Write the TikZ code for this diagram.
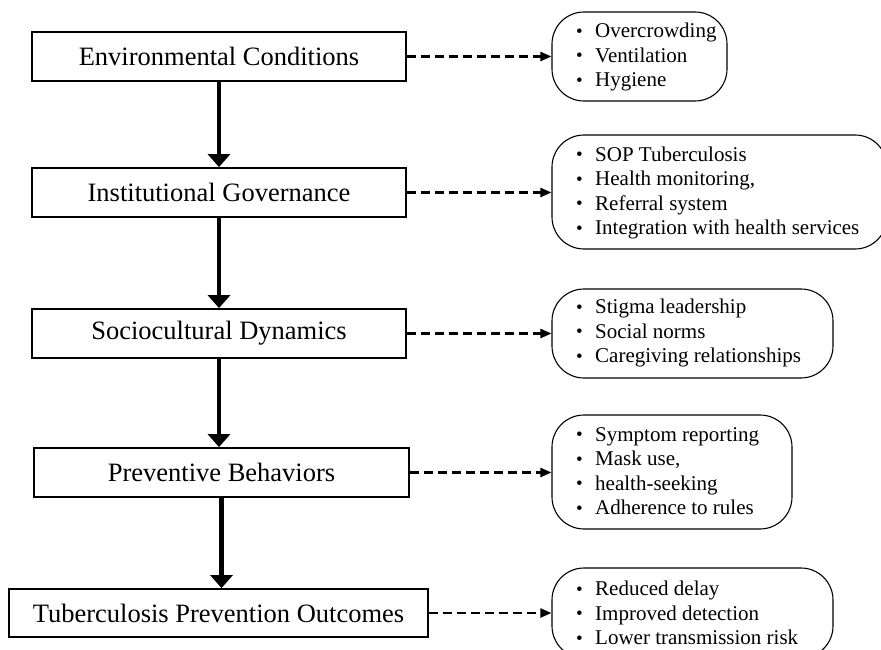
\documentclass[tikz,border=0pt]{standalone}
\usepackage{fontspec}
\setmainfont{Liberation Serif}
\usetikzlibrary{arrows.meta}
\newcommand{\bul}{\makebox[19pt][l]{\raisebox{0.5pt}{\fontsize{19}{19}\selectfont\textbullet}}}
\begin{document}
\begin{tikzpicture}[x=1pt,y=-1pt,
  mainbox/.style={draw, line width=1.8pt, inner sep=0pt, font=\fontsize{26.5}{30}\selectfont},
  listbox/.style={draw, line width=1.1pt, rounded corners=32pt, inner sep=0pt},
  listtext/.style={anchor=west, inner sep=0pt, align=left, font=\fontsize{21}{24.5}\selectfont},
  mainarrow/.style={line width=4.5pt, -{Triangle[width=22pt,length=13pt]}},
  sidearrow/.style={line width=2.2pt, dash pattern=on 9pt off 5pt, -{Triangle[width=9pt,length=11pt]}}]
\useasboundingbox (0,0) rectangle (881,650);
\clip (0,0) rectangle (881,650);
% main boxes
\node[mainbox, minimum width=374pt, minimum height=49pt] (b1) at (219,56.5) {Environmental Conditions};
\node[mainbox, minimum width=374pt, minimum height=49pt] (b2) at (219,192.5) {Institutional Governance};
\node[mainbox, minimum width=374pt, minimum height=49pt] (b3) at (219,333.5) {Sociocultural Dynamics};
\node[mainbox, minimum width=375pt, minimum height=49pt] (b4) at (221.5,472.5) {Preventive Behaviors};
\node[mainbox, minimum width=419pt, minimum height=48pt] (b5) at (218.5,613) {Tuberculosis Prevention Outcomes};
% side boxes
\node[listbox, minimum width=175pt, minimum height=89pt] (r1) at (639.5,56.5) {};
\node[listbox, minimum width=335pt, minimum height=114pt] (r2) at (719.5,192) {};
\node[listbox, minimum width=281pt, minimum height=89pt] (r3) at (692.5,333.5) {};
\node[listbox, minimum width=240pt, minimum height=114pt] (r4) at (672,472) {};
\node[listbox, minimum width=281pt, minimum height=90pt] (r5) at (692.5,613) {};
% side texts
\node[listtext] (t1) at (576,57) {\bul Overcrowding\\\bul Ventilation\\\bul Hygiene};
\node[listtext] (t2) at (576,193) {\bul SOP Tuberculosis\\\bul Health monitoring,\\\bul Referral system\\\bul Integration with health services};
\node[listtext] (t3) at (576,333) {\bul Stigma leadership\\\bul Social norms\\\bul Caregiving relationships};
\node[listtext] (t4) at (576,471) {\bul Symptom reporting\\\bul Mask use,\\\bul health-seeking\\\bul Adherence to rules};
\node[listtext] (t5) at (576,613) {\bul Reduced delay\\\bul Improved detection\\\bul Lower transmission risk};
% vertical arrows
\draw[mainarrow] (b1.south) -- (b2.north);
\draw[mainarrow] (b2.south) -- (b3.north);
\draw[mainarrow] (b3.south) -- (b3.south |- b4.north);
\draw[mainarrow] (b4.south) -- (b4.south |- b5.north);
% dashed arrows
\draw[sidearrow] (b1.east) -- (b1.east -| r1.west);
\draw[sidearrow] (b2.east) -- (b2.east -| r2.west);
\draw[sidearrow] (b3.east) -- (b3.east -| r3.west);
\draw[sidearrow] (b4.east) -- (b4.east -| r4.west);
\draw[sidearrow] (b5.east) -- (b5.east -| r5.west);
\end{tikzpicture}
\end{document}
